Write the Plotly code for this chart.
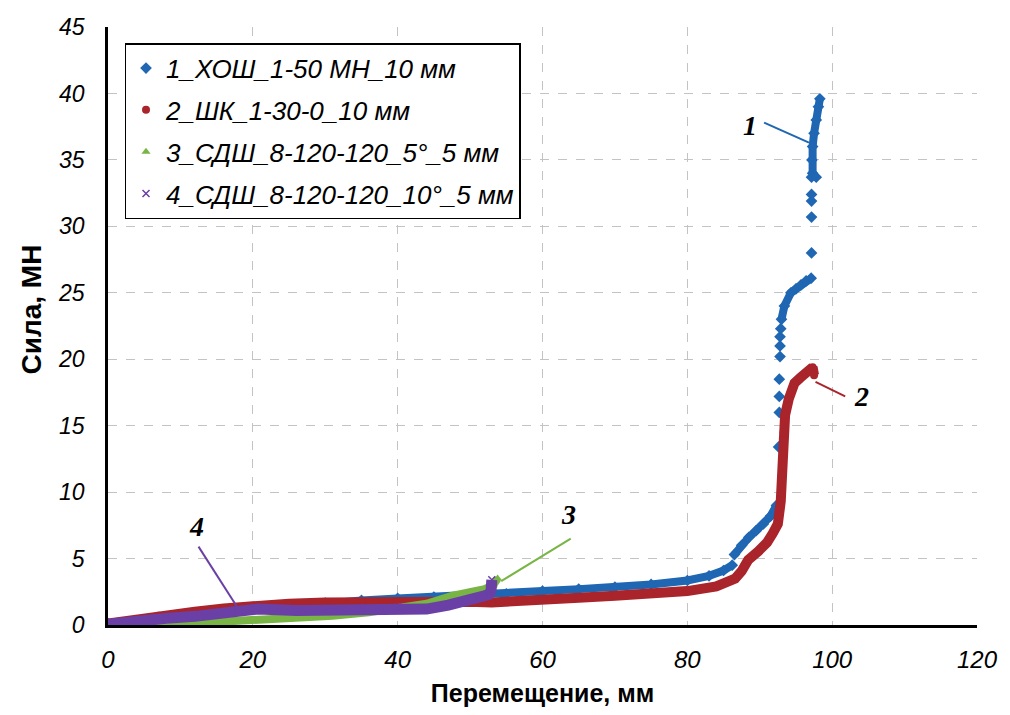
import plotly.graph_objects as go

# ---------------- data ----------------
names = ["1_ХОШ_1-50 МН_10 мм", "2_ШК_1-30-0_10 мм",
         "3_СДШ_8-120-120_5°_5 мм", "4_СДШ_8-120-120_10°_5 мм"]
colors = ["#1F66B3", "#A9242B", "#78B545", "#6A40A6"]
symbols = ["diamond", "circle", "triangle-up", "x-thin-open"]

# series 1 – dense segments
s1_x_a = [0, 5, 10, 15, 20, 25, 30, 35, 40, 45, 50, 55, 60, 65, 70, 75, 80, 83, 85, 86.2]
s1_y_a = [0.1, 0.35, 0.6, 0.9, 1.2, 1.45, 1.65, 1.85, 2.0, 2.1, 2.2, 2.35, 2.55, 2.7, 2.85, 3.05, 3.35, 3.7, 4.1, 4.5]
s1_x_b = [86.5, 87.5, 88.5, 89.5, 90.5, 91.5, 92.3]
s1_y_b = [5.3, 6.0, 6.6, 7.1, 7.6, 8.2, 9.0]
s1_x_c = [93.0, 93.4, 94.3, 95.0, 95.7, 96.4, 97.1]
s1_y_c = [23.0, 24.0, 25.0, 25.3, 25.6, 25.9, 26.1]
s1_x_d = [97.3, 97.2, 97.3, 97.5, 97.8, 98.1, 98.3]
s1_y_d = [34.0, 35.0, 36.0, 37.0, 38.0, 39.0, 39.6]
# series 1 – isolated points in the jumps
s1_x_s = [92.6, 92.7, 92.7, 92.7, 92.8, 92.8, 92.8, 92.9, 97.15, 97.15, 97.15, 97.15, 97.15, 97.8]
s1_y_s = [13.4, 16.0, 17.2, 18.5, 20.2, 21.0, 21.7, 22.3, 28.0, 30.7, 31.9, 32.4, 33.7, 33.7]

# series 2
s2_x = [0, 3, 7, 12, 16, 20, 25, 30, 35, 40, 45, 50, 53, 56, 60, 65, 70, 75, 80, 84,
        86.6, 87.5, 87.9, 88.4, 89.8, 91.0, 91.8, 92.5, 92.9, 93.1, 93.3, 93.5, 94.0,
        94.8, 95.6, 96.3, 97.0, 97.3, 97.5]
s2_y = [0.1, 0.35, 0.7, 1.0, 1.25, 1.45, 1.6, 1.7, 1.75, 1.8, 1.8, 1.75, 1.7, 1.75, 1.9, 2.05, 2.2, 2.35, 2.55, 2.9,
        3.5, 4.05, 4.5, 4.9, 5.55, 6.2, 6.9, 7.6, 9.3, 12.0, 14.5, 15.8, 17.0,
        18.2, 18.6, 18.9, 19.1, 19.4, 18.8]

# series 3
s3_x = [0, 5, 10, 14, 18, 21, 26, 31, 36, 41, 44, 47.5, 50, 52, 53.2, 53.8]
s3_y = [0.05, 0.2, 0.3, 0.2, 0.3, 0.35, 0.45, 0.7, 0.95, 1.3, 1.6, 2.2, 2.5, 2.7, 3.0, 3.5]

# series 4
s4_x = [0, 3.4, 8, 12, 17, 20.7, 26, 30, 35, 40, 44, 47, 49, 51, 52, 52.6, 52.9, 53.0]
s4_y = [0.05, 0.3, 0.5, 0.65, 0.9, 1.2, 1.1, 1.15, 1.25, 1.35, 1.2, 1.5, 1.7, 2.0, 2.2, 2.3, 2.6, 3.4]

# curve labels: text, label position, leader line start, leader line end
lbl_text = ["1", "2", "3", "4"]
lbl_x = [88.6, 104.0, 63.6, 12.2]
lbl_y = [37.6, 17.2, 8.3, 7.4]
lead_x0 = [90.6, 97.7, 63.9, 12.5]
lead_y0 = [37.8, 18.3, 6.5, 5.9]
lead_x1 = [96.8, 101.8, 54.3, 17.9]
lead_y1 = [36.3, 17.2, 3.3, 1.3]

x_ticks = [0, 20, 40, 60, 80, 100, 120]
y_ticks = [0, 5, 10, 15, 20, 25, 30, 35, 40, 45]

# ---------------- figure ----------------
fig = go.Figure()


def band(x, y, c, w):
    fig.add_trace(go.Scatter(x=x, y=y, mode="lines", showlegend=False,
                             line=dict(color=c, width=w), hoverinfo="skip"))


# series 1
for xs, ys in [(s1_x_a, s1_y_a), (s1_x_b, s1_y_b), (s1_x_c, s1_y_c), (s1_x_d, s1_y_d)]:
    band(xs, ys, colors[0], 8)
fig.add_trace(go.Scatter(x=s1_x_a + s1_x_b + s1_x_c + s1_x_d + s1_x_s,
                         y=s1_y_a + s1_y_b + s1_y_c + s1_y_d + s1_y_s,
                         mode="markers", name=names[0], legendgroup="g1",
                         marker=dict(symbol=symbols[0], size=9, color=colors[0])))
# series 2
band(s2_x, s2_y, colors[1], 10)
fig.add_trace(go.Scatter(x=s2_x, y=s2_y, mode="markers", name=names[1], legendgroup="g2",
                         marker=dict(symbol=symbols[1], size=8, color=colors[1])))
# series 3
band(s3_x, s3_y, colors[2], 8)
fig.add_trace(go.Scatter(x=s3_x, y=s3_y, mode="markers", name=names[2], legendgroup="g3",
                         marker=dict(symbol=symbols[2], size=8, color=colors[2])))
# series 4
band(s4_x, s4_y, colors[3], 11)
fig.add_trace(go.Scatter(x=s4_x, y=s4_y, mode="markers", name=names[3], legendgroup="g4",
                         marker=dict(symbol=symbols[3], size=7, color=colors[3],
                                     line=dict(color=colors[3], width=1.5))))

# leader lines and labels
for i in range(4):
    fig.add_shape(type="line", xref="x", yref="y",
                  x0=lead_x0[i], y0=lead_y0[i], x1=lead_x1[i], y1=lead_y1[i],
                  line=dict(color=colors[i], width=2))
    fig.add_annotation(x=lbl_x[i], y=lbl_y[i], xref="x", yref="y", text=lbl_text[i],
                       showarrow=False,
                       font=dict(family="Liberation Serif", size=28, color="black",
                                 weight="bold", style="italic"))

# y-axis title (placed slightly above the plot centre, as in the reference)
fig.add_annotation(text="Сила, МН", xref="paper", yref="paper", x=-0.108, y=0.527,
                   textangle=-90, showarrow=False,
                   font=dict(family="Liberation Sans", size=28, color="black", weight="bold"))

grid = dict(showgrid=True, gridcolor="#C3C3C3", griddash="dash", gridwidth=1,
            zeroline=False, showline=True, linecolor="black", linewidth=2.5, ticks="")

fig.update_xaxes(range=[0, 120], tickvals=x_ticks, **grid,
                 tickfont=dict(family="Liberation Sans Narrow, Liberation Sans", size=24,
                               color="black", style="italic"),
                 ticklabelstandoff=11,
                 title=dict(text="Перемещение, мм", standoff=13,
                            font=dict(family="Liberation Sans Narrow, Liberation Sans", size=25,
                                      color="black", weight="bold")))
fig.update_yaxes(range=[0, 45], tickvals=y_ticks, **grid,
                 tickfont=dict(family="Liberation Sans", size=23, color="black", style="italic"),
                 ticklabelstandoff=16)

fig.update_layout(
    width=1010, height=715,
    margin=dict(l=108, r=22, t=27, b=88),
    paper_bgcolor="white", plot_bgcolor="white",
    legend=dict(x=0.019, y=0.973, xanchor="left", yanchor="top",
                bordercolor="black", borderwidth=1.5, bgcolor="white",
                traceorder="grouped", tracegroupgap=5,
                font=dict(family="Liberation Sans", size=26, color="black", style="italic")),
)

fig.write_html("out.html")
